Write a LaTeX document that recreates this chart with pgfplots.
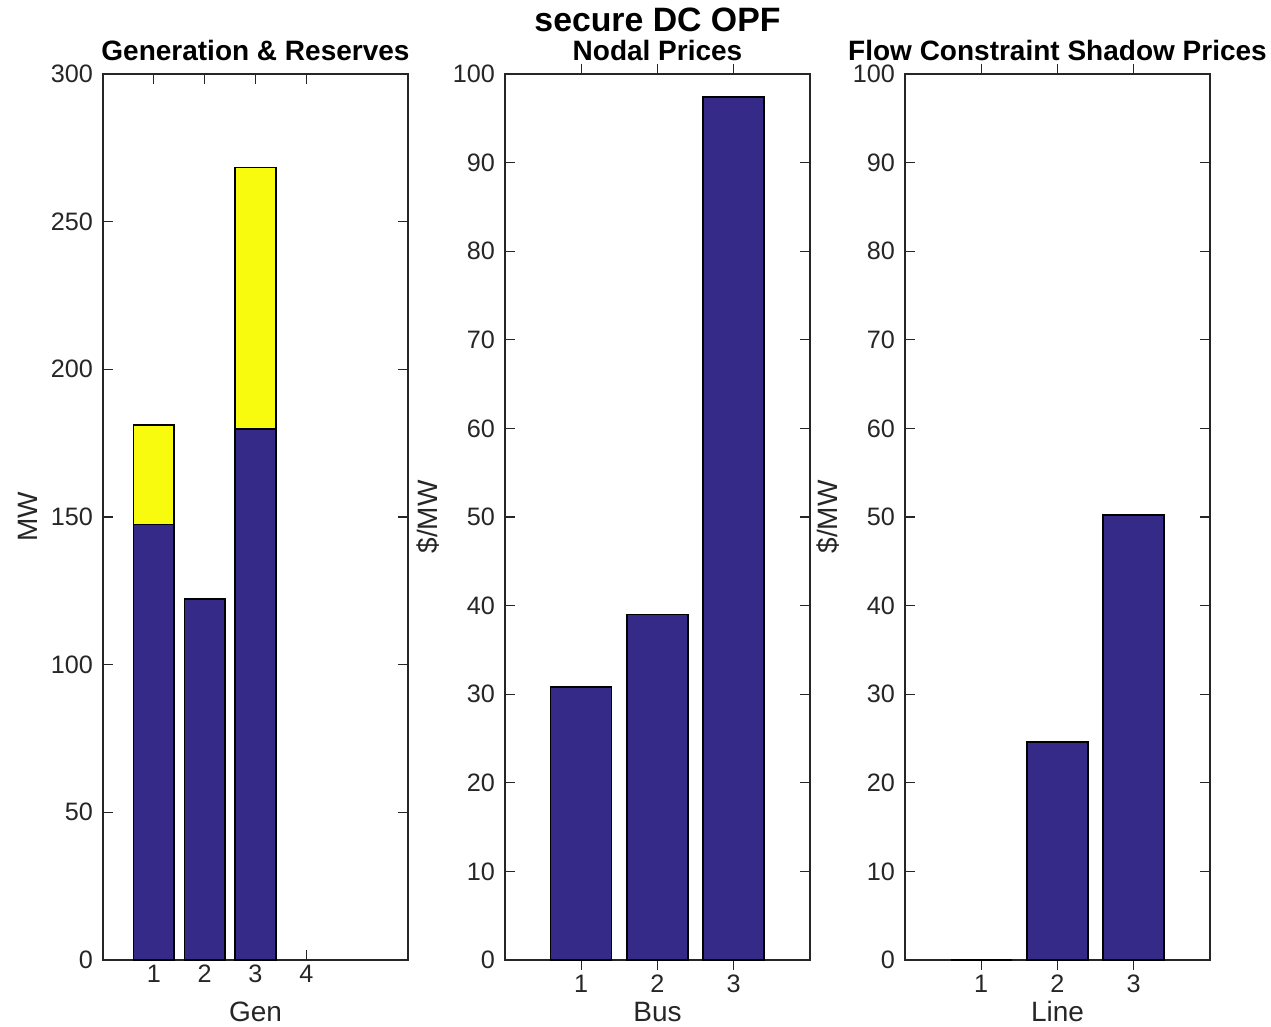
\documentclass[border=0pt]{standalone}
\usepackage{pgfplots}
\pgfplotsset{compat=1.18}
\usepackage{fontspec}
\setmainfont{Liberation Sans}
\definecolor{pblue}{RGB}{53,42,135}
\definecolor{pyellow}{RGB}{249,251,14}
\definecolor{axgray}{RGB}{38,38,38}
\pgfplotsset{
 myax/.style={scale only axis, width=152.5pt, height=443pt, ymin=0,
  axis line style={axgray, line width=0.6pt}, tick style={axgray, line width=0.6pt},
  tick align=inside, tick pos=both, major tick length=5pt,
  ticklabel style={font=\fontsize{12.6}{14}\selectfont, text=axgray},
  yticklabel style={xshift=-1.5pt},
  label style={font=\fontsize{14}{16}\selectfont, text=axgray},
  title style={font=\bfseries\fontsize{14}{16}\selectfont, at={(0.5,1)}, anchor=base, yshift=0.5pt},
  xlabel style={at={(axis description cs:0.5,0)}, anchor=base, yshift=-31pt},
  xticklabel style={yshift=1pt},
  bar width=0.8, clip=false,
  /pgf/number format/assume math mode=true,
  every axis plot/.append style={draw=black, line width=0.75pt},
 }
}
\begin{document}
\begin{tikzpicture}
\path[use as bounding box] (-51.5pt,-33.5pt) rectangle (584pt,480pt);
\begin{axis}[myax, ybar stacked, at={(0pt,0pt)}, anchor=south west,
  xmin=0, xmax=6, xtick={1,2,3,4}, ymax=300, ytick={0,50,...,300},
  title={Generation \& Reserves}, xlabel={Gen}, ylabel={MW},
  ylabel style={at={(axis description cs:-0.246,0.5)}, anchor=center}]
\addplot[fill=pblue] coordinates {(1,147.5) (2,122.3) (3,179.8) (4,0)};
\addplot[fill=pyellow] coordinates {(1,33.6) (2,0) (3,88.6) (4,0)};
\end{axis}
\begin{axis}[myax, ybar, at={(201pt,0pt)}, anchor=south west,
  xmin=0, xmax=4, xtick={1,2,3}, ymax=100, ytick={0,10,...,100},
  title={Nodal Prices}, xlabel={Bus}, ylabel={\$/MW},
  ylabel style={at={(axis description cs:-0.252,0.5)}, anchor=center}]
\addplot[fill=pblue] coordinates {(1,30.8) (2,39.0) (3,97.4)};
\node[font=\bfseries\fontsize{16.9}{19}\selectfont, anchor=base] at (rel axis cs:0.5,1) [yshift=21pt] {secure DC OPF};
\end{axis}
\begin{axis}[myax, ybar, at={(401pt,0pt)}, anchor=south west,
  xmin=0, xmax=4, xtick={1,2,3}, ymax=100, ytick={0,10,...,100},
  title={Flow Constraint Shadow Prices}, xlabel={Line}, ylabel={\$/MW},
  ylabel style={at={(axis description cs:-0.252,0.5)}, anchor=center}]
\addplot[fill=pblue] coordinates {(1,0) (2,24.6) (3,50.2)};
\end{axis}
\end{tikzpicture}
\end{document}
